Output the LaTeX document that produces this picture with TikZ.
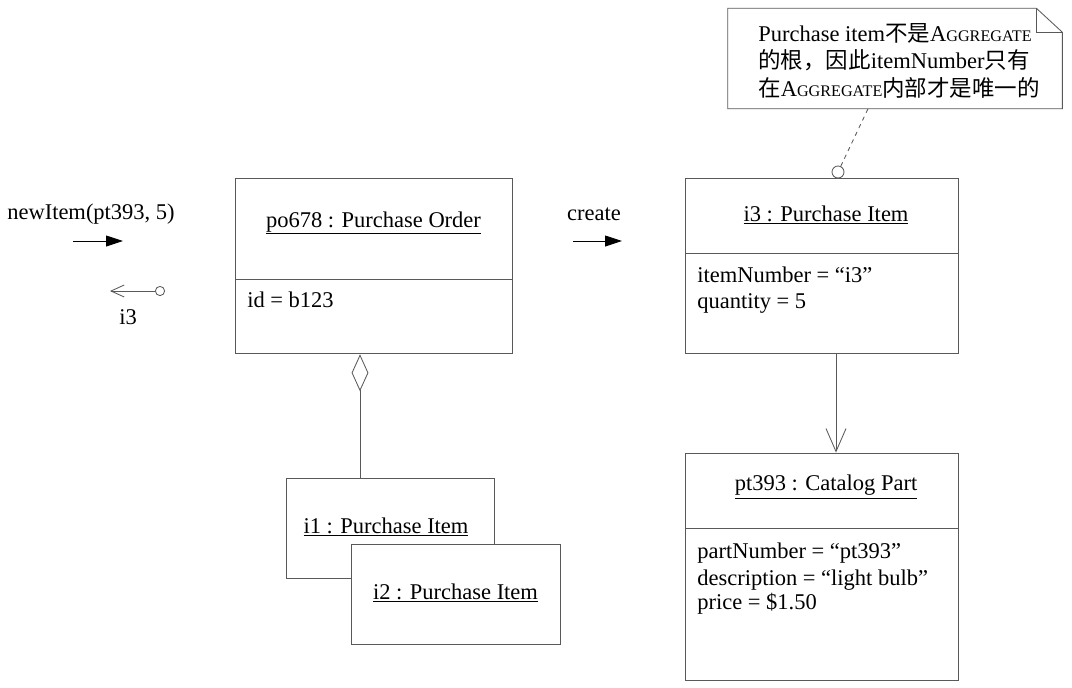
\documentclass[tikz,border=0pt]{standalone}
\usepackage{fontspec}
\setmainfont{Liberation Serif}
\newfontfamily\cjk{Noto Sans CJK SC}
\usetikzlibrary{arrows.meta,positioning}
\newcommand{\aggr}{A{\fontsize{11.5}{13}\selectfont GGREGATE}}

\begin{document}
\begin{tikzpicture}[x=0.025cm,y=-0.025cm,line join=miter,every node/.style={font=\fontsize{16}{19}\selectfont},obj box/.style={draw=black!65,line width=0.6pt,fill=white,inner sep=0pt}]
\tikzstyle{link} = [draw=black!65,line width=0.6pt]
\tikzstyle{attr} = [anchor=west,inner sep=0pt]

\useasboundingbox (0,0) rectangle (1072,687);

\coordinate (aggx) at (360,0);
\coordinate (refx) at (836,0);
\coordinate (callstart) at (73,241);
\coordinate (callend) at (123,241);
\coordinate (retend) at (110,291);
\coordinate (createstart) at (573,241);
\coordinate (createend) at (622,241);

% Purchase order
\node[obj box,minimum width=6.925cm,minimum height=2.525cm] (po) at (373.5,228.5) {};
\node[obj box,minimum width=6.925cm,minimum height=1.85cm,below=0pt of po] (po body) {};
\node at (373.5,223) (po title) {\underline{po678 : Purchase Order}};
\node[attr] at (247,300) (po id) {id = b123};

% Purchase item i3
\node[obj box,minimum width=6.825cm,minimum height=1.875cm] (i3) at (821.5,215.5) {};
\node[obj box,minimum width=6.825cm,minimum height=2.5cm,below=0pt of i3] (i3 body) {};
\node at (826,215) (i3 title) {\underline{i3 : Purchase Item}};
\node[attr] at (697,275) (i3 num) {itemNumber = “i3”};
\node[attr] at (697,303) (i3 qty) {quantity = 5};

% Catalog part
\node[obj box,minimum width=6.825cm,minimum height=1.875cm] (pt) at (821.5,490.5) {};
\node[obj box,minimum width=6.825cm,minimum height=3.8cm,below=0pt of pt] (pt body) {};
\node at (826,487) (pt title) {\underline{pt393 : Catalog Part}};
\node[attr] at (697,553) (pt num) {partNumber = “pt393”};
\node[attr] at (697,580) (pt desc) {description = “light bulb”};
\node[attr] at (697,604) (pt price) {price = \$1.50};

% Purchase items i1, i2
\node[obj box,minimum width=5.2cm,minimum height=2.5cm] (i1) at (390,528) {};
\node at (386,527) (i1 title) {\underline{i1 : Purchase Item}};
\node[obj box,minimum width=5.225cm,minimum height=2.5cm] (i2) at (455.5,594) {};
\node at (455.5,593) (i2 title) {\underline{i2 : Purchase Item}};

% Aggregation and reference
\draw[link,{Diamond[open,length=0.925cm,width=0.42cm]}-] (po body.south -| aggx) -- (i1.north -| aggx);
\draw[link,-{Straight Barb[length=0.575cm,width=0.5cm]}] (i3 body.south -| refx) -- (pt.north -| refx);

% Note
\node[minimum width=8.35cm,minimum height=2.5cm] (note) at (895,58.5) {};
\draw[link,fill=white] (note.south west) -- (note.north west) -- ([xshift=-0.65cm]note.north east) -- ([yshift=-0.6cm]note.north east) -- (note.south east) -- cycle;
\draw[link] ([xshift=-0.65cm]note.north east) -- ([xshift=-0.65cm,yshift=-0.6cm]note.north east) -- ([yshift=-0.6cm]note.north east);
\node[anchor=north west,align=left,inner sep=0pt,font=\fontsize{16}{19.6}\selectfont] at (758,23) (note text) {Purchase item{\cjk 不是}\aggr\\{\cjk 的根，因此}itemNumber{\cjk 只有}\\{\cjk 在}\aggr{\cjk 内部才是唯一的}};
\node[circle,draw=black!65,line width=0.6pt,fill=white,minimum size=0.3cm,inner sep=0pt] (root mark) at (838,172) {};
\draw[link,dashed] (root mark) -- ([xshift=-0.675cm]note.south);

% Messages
\draw[line width=0.6pt,-{Triangle[length=0.42cm,width=0.27cm]}] (callstart) -- (callend);
\node at (91,214) (call label) {newItem(pt393, 5)};
\node[circle,draw=black!65,line width=0.6pt,fill=white,minimum size=0.23cm,inner sep=0pt] (ret mark) at (160,291) {};
\draw[link,-{Straight Barb[length=0.33cm,width=0.3cm]}] (ret mark) -- (retend);
\node at (128,317) (ret label) {i3};
\draw[line width=0.6pt,-{Triangle[length=0.42cm,width=0.27cm]}] (createstart) -- (createend);
\node at (594,214) (create label) {create};

\end{tikzpicture}
\end{document}
